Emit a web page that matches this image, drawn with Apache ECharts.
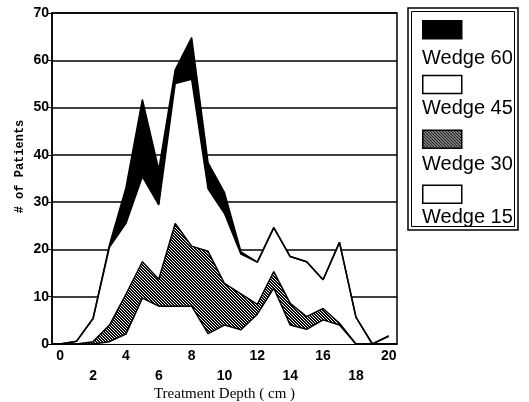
<!DOCTYPE html>
<html><head><meta charset="utf-8">
<script src="https://cdn.jsdelivr.net/npm/echarts@6/dist/echarts.min.js"></script>
<style>html,body{margin:0;padding:0;background:#fff}#c{width:529px;height:402px}</style>
</head><body><div id="c"></div>
<script>
const depths  = ['0','1','2','3','4','5','6','7','8','9','10','11','12','13','14','15','16','17','18','19','20'];
const wedge15 = [0,0,0,0.5,2.1,9.7,8.0,8.0,8.0,2.2,4.0,3.0,6.3,11.8,4.0,3.1,5.1,4.0,0,0,0];
const wedge30 = [0,0,0.5,3.5,8.4,7.7,5.7,17.5,12.7,17.4,8.8,7.6,2.1,3.5,4.6,2.7,2.4,0.4,0,0,0];
const wedge45 = [0,0.6,4.9,16.5,15.0,18.0,15.7,29.6,35.3,13.2,14.8,8.4,8.9,9.3,9.9,11.6,6.1,17.1,5.7,0,1.7];
const wedge60 = [0,0,0,0.5,7.5,16.3,7.4,2.9,8.8,5.5,4.4,0.5,0,0,0,0,0,0,0,0,0];
const seriesNames  = ['Wedge 15','Wedge 30','Wedge 45','Wedge 60'];
const legendOrder  = ['Wedge 60','Wedge 45','Wedge 30','Wedge 15'];

function hatchCanvas() {
  const n = 6, c = document.createElement('canvas');
  c.width = n; c.height = n;
  const ctx = c.getContext('2d');
  const img = ctx.createImageData(n, n);
  for (let y = 0; y < n; y++) for (let x = 0; x < n; x++) {
    const k = (((x - y) % 3) + 3) % 3;
    const v = k === 2 ? 255 : 10;
    const i = (y * n + x) * 4;
    img.data[i] = v; img.data[i+1] = v; img.data[i+2] = v; img.data[i+3] = 255;
  }
  ctx.putImageData(img, 0, 0);
  return c;
}
const hatch = { image: hatchCanvas(), repeat: 'repeat' };
const fills = { 'Wedge 15': '#fff', 'Wedge 30': hatch, 'Wedge 45': '#fff', 'Wedge 60': '#000' };
const values = { 'Wedge 15': wedge15, 'Wedge 30': wedge30, 'Wedge 45': wedge45, 'Wedge 60': wedge60 };

const chart = echarts.init(document.getElementById('c'), null, { renderer: 'canvas' });

const legendTextY = [58, 108, 164, 217];
const graphic = [
  { type: 'rect', silent: true, shape: { x: 408, y: 8, width: 110, height: 222 },
    style: { fill: 'none', stroke: '#000', lineWidth: 1.5 } },
  { type: 'rect', silent: true, shape: { x: 411.5, y: 11.5, width: 103, height: 215 },
    style: { fill: 'none', stroke: '#000', lineWidth: 1 } }
];
legendOrder.forEach((nm, i) => {
  graphic.push({ type: 'text', silent: true, x: 422, y: legendTextY[i],
    style: { text: nm, fontSize: 20, fontFamily: '"Liberation Sans", Arial, sans-serif',
             fill: '#000', verticalAlign: 'middle', align: 'left' } });
});

chart.setOption({
  animation: false,
  backgroundColor: '#fff',
  grid: { left: 52, right: 132, top: 13, bottom: 58, containLabel: false, outerBoundsMode: 'none',
          show: true, borderColor: '#000', borderWidth: 1.5 },
  xAxis: {
    type: 'category', data: depths, boundaryGap: true,
    name: 'Treatment Depth ( cm )', nameLocation: 'middle', nameGap: 43, nameMoveOverlap: false,
    nameTextStyle: { fontFamily: '"Liberation Serif", serif', fontSize: 15, color: '#000' },
    axisLine: { lineStyle: { color: '#000', width: 1.5 } },
    axisTick: { alignWithLabel: true, interval: 0, length: 4, lineStyle: { color: '#000', width: 1 } },
    axisLabel: { interval: 0, margin: 2, color: '#000', fontSize: 14, fontWeight: 'bold',
      fontFamily: '"Liberation Sans", Arial, sans-serif', lineHeight: 20,
      formatter: v => { const n = Number(v); return n % 2 ? '' : (n % 4 === 2 ? '\n' + v : v); } },
    splitLine: { show: false }
  },
  yAxis: {
    type: 'value', min: 0, max: 70, interval: 10,
    name: '# of Patients', nameLocation: 'middle', nameGap: 26, nameMoveOverlap: false,
    nameTextStyle: { fontFamily: '"Liberation Mono", monospace', fontWeight: 'bold', fontSize: 12, color: '#000',
      padding: [0, 0, 0, 24] },
    axisLine: { show: true, lineStyle: { color: '#000', width: 1.5 } },
    axisTick: { show: true, length: 5, lineStyle: { color: '#000', width: 1 } },
    axisLabel: { margin: 3, color: '#000', fontSize: 14, fontWeight: 'bold',
      fontFamily: '"Liberation Sans", Arial, sans-serif' },
    splitLine: { show: true, lineStyle: { color: '#000', width: 1.5 } }
  },
  legend: {
    orient: 'vertical', left: 422, top: 20, padding: 0, itemWidth: 39, itemHeight: 18, itemGap: 35.3,
    icon: 'rect', selectedMode: false, formatter: () => '', textStyle: { fontSize: 1 },
    data: legendOrder.map(nm => ({ name: nm,
      itemStyle: { color: fills[nm], borderColor: '#000', borderWidth: 1.5 } }))
  },
  graphic: graphic,
  series: seriesNames.map(nm => ({
    name: nm, type: 'line', stack: 'total', symbol: 'none', smooth: false,
    data: values[nm],
    lineStyle: { color: '#000', width: 1.5 },
    itemStyle: { color: fills[nm], borderColor: '#000' },
    areaStyle: { color: fills[nm], opacity: 1 },
    emphasis: { disabled: true }
  }))
});
</script></body></html>
